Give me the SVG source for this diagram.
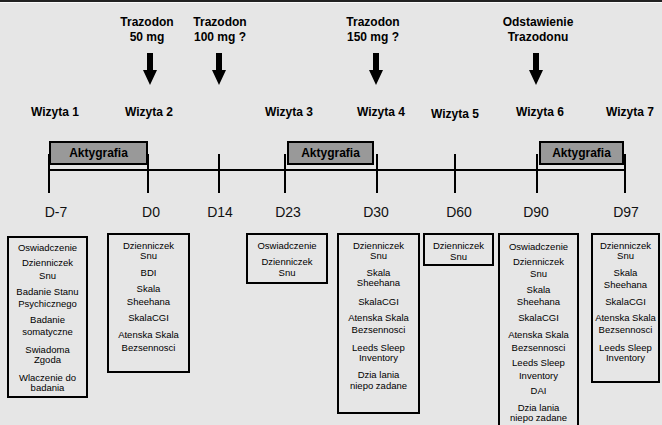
<svg xmlns="http://www.w3.org/2000/svg" width="662" height="425" viewBox="0 0 662 425">
<style>
.bg{fill:#e6e6e6}
.t{font-family:"Liberation Sans",Arial,sans-serif;fill:#000}
.hd{font-size:12px;font-weight:bold;text-anchor:middle}
.day{font-size:14px;text-anchor:middle;fill:#111}
.sm{font-size:9.5px;text-anchor:middle}
.ak{fill:#999;stroke:#000;stroke-width:2}
.bx{fill:none;stroke:#000;stroke-width:2}
.tl{stroke:#000;stroke-width:2;fill:none}
.arr{fill:#000}
</style>
<rect class="bg" x="0" y="0" width="662" height="425"/>
<rect x="0" y="0" width="662" height="2" fill="#222"/>
<rect x="0" y="2" width="662" height="1" fill="#fafafa"/>

<g id="connectors">
<line class="tl" x1="49" y1="170" x2="625" y2="170"/>
<line class="tl" x1="49" y1="154" x2="49" y2="193"/>
<line class="tl" x1="148" y1="154" x2="148" y2="193"/>
<line class="tl" x1="219" y1="154" x2="219" y2="193"/>
<line class="tl" x1="285" y1="154" x2="285" y2="193"/>
<line class="tl" x1="377" y1="154" x2="377" y2="193"/>
<line class="tl" x1="455" y1="154" x2="455" y2="193"/>
<line class="tl" x1="537" y1="154" x2="537" y2="193"/>
<line class="tl" x1="625" y1="154" x2="625" y2="193"/>
<path class="arr" d="M147,53 h6 v17 h4 l-7,15 l-7,-15 h4 z"/>
<path class="arr" d="M216,53 h6 v17 h4 l-7,15 l-7,-15 h4 z"/>
<path class="arr" d="M373,53 h6 v17 h4 l-7,15 l-7,-15 h4 z"/>
<path class="arr" d="M533,53 h6 v17 h4 l-7,15 l-7,-15 h4 z"/>
</g>

<g id="drugs">
<text class="t hd" x="147" y="26">Trazodon</text>
<text class="t hd" x="147" y="41">50 mg</text>
<text class="t hd" x="220" y="26">Trazodon</text>
<text class="t hd" x="220" y="41">100 mg ?</text>
<text class="t hd" x="373" y="26">Trazodon</text>
<text class="t hd" x="373" y="41">150 mg ?</text>
<text class="t hd" x="538" y="26">Odstawienie</text>
<text class="t hd" x="538" y="41">Trazodonu</text>
</g>

<g id="visits">
<text class="t hd" x="55" y="116">Wizyta 1</text>
<text class="t hd" x="149" y="116">Wizyta 2</text>
<text class="t hd" x="289" y="116">Wizyta 3</text>
<text class="t hd" x="381" y="116">Wizyta 4</text>
<text class="t hd" x="455" y="118">Wizyta 5</text>
<text class="t hd" x="540" y="116">Wizyta 6</text>
<text class="t hd" x="630" y="116">Wizyta 7</text>
</g>

<g id="aktygrafia1">
<rect class="ak" x="50" y="142" width="97" height="22"/>
<text class="t hd" x="98.5" y="157">Aktygrafia</text>
</g>
<g id="aktygrafia2">
<rect class="ak" x="288" y="142" width="85" height="22"/>
<text class="t hd" x="330.5" y="157">Aktygrafia</text>
</g>
<g id="aktygrafia3">
<rect class="ak" x="540" y="142" width="83" height="22"/>
<text class="t hd" x="581.5" y="157">Aktygrafia</text>
</g>

<g id="days">
<text class="t day" x="56" y="217">D-7</text>
<text class="t day" x="151" y="217">D0</text>
<text class="t day" x="220" y="217">D14</text>
<text class="t day" x="288" y="217">D23</text>
<text class="t day" x="376" y="217">D30</text>
<text class="t day" x="459" y="217">D60</text>
<text class="t day" x="536" y="217">D90</text>
<text class="t day" x="626" y="217">D97</text>
</g>

<g id="box1">
<rect class="bx" x="8" y="237" width="79" height="160"/>
<text class="t sm" x="47.5" y="251">Oswiadczenie</text>
<text class="t sm" x="47.5" y="266">Dzienniczek</text>
<text class="t sm" x="47.5" y="279">Snu</text>
<text class="t sm" x="47.5" y="295">Badanie Stanu</text>
<text class="t sm" x="47.5" y="307">Psychicznego</text>
<text class="t sm" x="47.5" y="323">Badanie</text>
<text class="t sm" x="47.5" y="335">somatyczne</text>
<text class="t sm" x="47.5" y="353">Swiadoma</text>
<text class="t sm" x="47.5" y="363">Zgoda</text>
<text class="t sm" x="47.5" y="381">Wlaczenie do</text>
<text class="t sm" x="47.5" y="391">badania</text>
</g>

<g id="box2">
<rect class="bx" x="108" y="234" width="81" height="138"/>
<text class="t sm" x="148.5" y="249">Dzienniczek</text>
<text class="t sm" x="148.5" y="259">Snu</text>
<text class="t sm" x="148.5" y="276">BDI</text>
<text class="t sm" x="148.5" y="292">Skala</text>
<text class="t sm" x="148.5" y="305">Sheehana</text>
<text class="t sm" x="148.5" y="321">SkalaCGI</text>
<text class="t sm" x="148.5" y="338">Atenska Skala</text>
<text class="t sm" x="148.5" y="351">Bezsennosci</text>
</g>

<g id="box3">
<rect class="bx" x="247" y="234" width="80" height="49"/>
<text class="t sm" x="287" y="249">Oswiadczenie</text>
<text class="t sm" x="287" y="265">Dzienniczek</text>
<text class="t sm" x="287" y="276">Snu</text>
</g>

<g id="box4">
<rect class="bx" x="338" y="234" width="81" height="179"/>
<text class="t sm" x="378.5" y="249">Dzienniczek</text>
<text class="t sm" x="378.5" y="259">Snu</text>
<text class="t sm" x="378.5" y="276">Skala</text>
<text class="t sm" x="378.5" y="286">Sheehana</text>
<text class="t sm" x="378.5" y="305">SkalaCGI</text>
<text class="t sm" x="378.5" y="321">Atenska Skala</text>
<text class="t sm" x="378.5" y="333">Bezsennosci</text>
<text class="t sm" x="378.5" y="351">Leeds Sleep</text>
<text class="t sm" x="378.5" y="361">Inventory</text>
<text class="t sm" x="378.5" y="378">Dzia lania</text>
<text class="t sm" x="378.5" y="389">niepo zadane</text>
</g>

<g id="box5">
<rect class="bx" x="424" y="234" width="69" height="31"/>
<text class="t sm" x="458.5" y="249">Dzienniczek</text>
<text class="t sm" x="458.5" y="260">Snu</text>
</g>

<g id="box6">
<path class="bx" d="M499,430 V234 H578 V430"/>
<text class="t sm" x="538.5" y="250">Oswiadczenie</text>
<text class="t sm" x="538.5" y="265">Dzienniczek</text>
<text class="t sm" x="538.5" y="277">Snu</text>
<text class="t sm" x="538.5" y="293">Skala</text>
<text class="t sm" x="538.5" y="305">Sheehana</text>
<text class="t sm" x="538.5" y="321">SkalaCGI</text>
<text class="t sm" x="538.5" y="338">Atenska Skala</text>
<text class="t sm" x="538.5" y="351">Bezsennosci</text>
<text class="t sm" x="538.5" y="366">Leeds Sleep</text>
<text class="t sm" x="538.5" y="379">Inventory</text>
<text class="t sm" x="538.5" y="394">DAI</text>
<text class="t sm" x="538.5" y="411">Dzia lania</text>
<text class="t sm" x="538.5" y="421">niepo zadane</text>
</g>

<g id="box7">
<rect class="bx" x="592" y="234" width="67" height="148"/>
<text class="t sm" x="625.5" y="249">Dzienniczek</text>
<text class="t sm" x="625.5" y="259">Snu</text>
<text class="t sm" x="625.5" y="276">Skala</text>
<text class="t sm" x="625.5" y="288">Sheehana</text>
<text class="t sm" x="625.5" y="305">SkalaCGI</text>
<text class="t sm" x="625.5" y="321">Atenska Skala</text>
<text class="t sm" x="625.5" y="333">Bezsennosci</text>
<text class="t sm" x="625.5" y="351">Leeds Sleep</text>
<text class="t sm" x="625.5" y="361">Inventory</text>
</g>
</svg>
